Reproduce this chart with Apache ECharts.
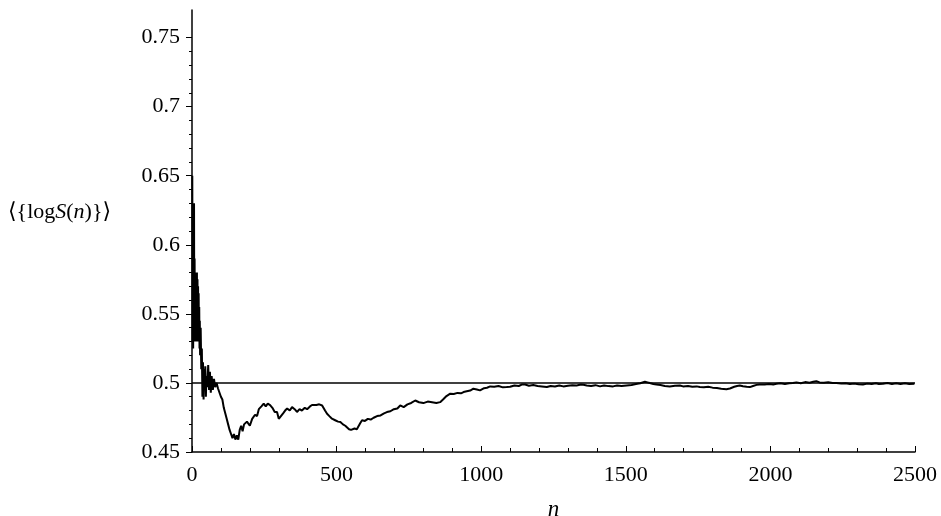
<!DOCTYPE html>
<html>
<head>
<meta charset="utf-8">
<script src="https://cdn.jsdelivr.net/npm/echarts@6/dist/echarts.min.js"></script>
<style>
  html, body { margin: 0; padding: 0; background: #fff; }
  #chart { width: 941px; height: 516px; }
</style>
</head>
<body>
<div id="chart"></div>
<script>
// running mean
var nVals = [1, 2, 3, 4, 5, 6, 7, 8, 9, 10, 11, 12, 13, 14, 15, 16, 17, 18, 19, 20,
  21, 22, 23, 24, 25, 26, 27, 28, 30, 32, 34, 36, 38, 40, 42, 44, 46, 48, 50, 53,
  56, 59, 62, 65, 68, 72, 76, 80, 85, 90, 95, 100, 105, 110, 115, 120, 125, 130, 135, 140,
  145, 150, 155, 160, 165, 170, 175, 180, 190, 200, 208, 213, 218, 225, 231, 240, 248, 255, 262, 270,
  278, 286, 294, 300, 306, 315, 322, 329, 338, 346, 355, 363, 372, 380, 390, 398, 408, 415, 421, 430,
  440, 450, 460, 467, 475, 484, 495, 505, 513, 522, 530, 536, 543, 550, 555, 562, 570, 576, 582, 588,
  598, 608, 618, 628, 640, 652, 664, 674, 686, 698, 710, 720, 732, 745, 758, 772, 785, 800, 815, 830,
  845, 858, 868, 880, 893, 905, 918, 930, 939, 950, 962, 973, 985, 996, 1010, 1020, 1031, 1045, 1060, 1075,
  1088, 1100, 1115, 1130, 1140, 1152, 1165, 1180, 1195, 1210, 1227, 1240, 1255, 1270, 1284, 1300, 1315, 1330, 1345, 1353,
  1365, 1380, 1395, 1411, 1425, 1440, 1456, 1470, 1485, 1503, 1520, 1535, 1550, 1566, 1575, 1583, 1595, 1606, 1620, 1635,
  1652, 1670, 1687, 1698, 1715, 1730, 1745, 1756, 1770, 1785, 1800, 1815, 1830, 1848, 1860, 1875, 1885, 1894, 1905, 1918,
  1929, 1940, 1952, 1963, 1980, 1995, 2010, 2021, 2035, 2050, 2065, 2078, 2090, 2105, 2120, 2135, 2148, 2159, 2170, 2185,
  2200, 2215, 2228, 2245, 2260, 2275, 2290, 2305, 2320, 2335, 2350, 2365, 2375, 2389, 2405, 2420, 2435, 2450, 2465, 2480,
  2498]
var meanVals = [0.65, 0.53, 0.62, 0.525, 0.6, 0.54, 0.63, 0.53, 0.59, 0.535, 0.57, 0.53, 0.575, 0.54, 0.58, 0.53, 0.58, 0.535, 0.575, 0.53,
  0.57, 0.535, 0.565, 0.53, 0.555, 0.525, 0.545, 0.52, 0.54, 0.51, 0.525, 0.49, 0.515, 0.488, 0.51, 0.495, 0.512, 0.49, 0.505, 0.497,
  0.513, 0.495, 0.508, 0.493, 0.505, 0.495, 0.503, 0.497, 0.5, 0.496, 0.497, 0.49, 0.488, 0.482, 0.478, 0.474, 0.47, 0.466, 0.463, 0.46,
  0.463, 0.459, 0.462, 0.459, 0.466, 0.469, 0.465, 0.47, 0.472, 0.469, 0.474, 0.473, 0.477, 0.476, 0.481, 0.483, 0.485, 0.483, 0.485, 0.484,
  0.482, 0.479, 0.479, 0.474, 0.473, 0.478, 0.48, 0.4815, 0.48, 0.4825, 0.481, 0.479, 0.481, 0.48, 0.482, 0.481, 0.483, 0.484, 0.485, 0.484,
  0.4845, 0.4837, 0.48, 0.4777, 0.476, 0.4741, 0.473, 0.472, 0.4717, 0.47, 0.469, 0.468, 0.4665, 0.466, 0.4652, 0.467, 0.4665, 0.4669, 0.471, 0.473,
  0.4725, 0.474, 0.4735, 0.4748, 0.476, 0.4765, 0.478, 0.4789, 0.4795, 0.481, 0.4815, 0.4837, 0.4825, 0.4845, 0.4855, 0.4873, 0.486, 0.4854, 0.4865, 0.486,
  0.4855, 0.4861, 0.488, 0.4905, 0.4922, 0.492, 0.4928, 0.4925, 0.4934, 0.494, 0.4945, 0.4958, 0.4952, 0.4946, 0.4962, 0.4965, 0.4975, 0.4972, 0.4978, 0.4968,
  0.497, 0.4972, 0.4982, 0.4978, 0.4988, 0.4989, 0.498, 0.4985, 0.4978, 0.4975, 0.497, 0.4978, 0.4974, 0.4982, 0.4975, 0.498, 0.4984, 0.4982, 0.4988, 0.4987,
  0.4982, 0.4978, 0.4984, 0.4975, 0.4982, 0.4977, 0.4975, 0.4981, 0.4978, 0.4982, 0.4985, 0.4992, 0.4998, 0.5009, 0.5004, 0.4999, 0.4992, 0.4989, 0.4985, 0.4978,
  0.4975, 0.498, 0.4982, 0.4975, 0.4978, 0.4972, 0.4975, 0.497, 0.4968, 0.4972, 0.4966, 0.4963, 0.4958, 0.4955, 0.496, 0.4972, 0.4978, 0.4982, 0.4976, 0.4972,
  0.497, 0.4978, 0.4986, 0.4989, 0.4988, 0.4992, 0.4989, 0.4994, 0.4997, 0.4993, 0.4998, 0.4999, 0.5004, 0.4998, 0.5006, 0.5002, 0.5008, 0.5013, 0.5004, 0.5002,
  0.5005, 0.5, 0.4999, 0.4996, 0.4998, 0.4992, 0.4995, 0.499, 0.4989, 0.4995, 0.4992, 0.4998, 0.4992, 0.4994, 0.4999, 0.4993, 0.4998, 0.4993, 0.4997, 0.4992,
  0.4994]
var refN = [0, 2500]
var refVals = [0.5, 0.5]

var font = '"Liberation Serif", "DejaVu Serif", serif'
var chart = echarts.init(document.getElementById('chart'))

var lineData = nVals.map(function (n, i) { return [n, meanVals[i]] })
var refData = refN.map(function (n, i) { return [n, refVals[i]] })

chart.setOption({
  animation: false,
  backgroundColor: '#fff',
  grid: [
    { left: 192, right: 26, top: 10, bottom: 64, outerBoundsMode: 'none' },
    // second grid only carries the tick marks up to 0.75
    { left: 192, right: 26, top: 37.6, bottom: 64, outerBoundsMode: 'none' }
  ],
  xAxis: [
    {
      gridIndex: 0,
      type: 'value',
      min: 0,
      max: 2500,
      interval: 500,
      name: 'n',
      nameLocation: 'middle',
      nameGap: 46,
      nameTextStyle: { fontFamily: font, fontSize: 23, fontStyle: 'italic', color: '#000' },
      axisLine: { show: true, lineStyle: { color: '#000', width: 1.5 } },
      axisTick: { show: true, inside: true, length: 6, lineStyle: { color: '#000', width: 1 } },
      minorTick: { show: true, splitNumber: 5, length: 4, lineStyle: { color: '#000', width: 1 } },
      axisLabel: {
        margin: 12, fontFamily: font, fontSize: 22, color: '#000',
        formatter: function (v) { return String(v) }
      },
      splitLine: { show: false }
    },
    { gridIndex: 1, type: 'value', min: 0, max: 2500, show: false }
  ],
  yAxis: [
    {
      gridIndex: 0,
      type: 'value',
      min: 0.45,
      max: 0.77,
      axisLine: { show: true, lineStyle: { color: '#000', width: 1.5 } },
      axisTick: { show: false },
      axisLabel: { show: false },
      splitLine: { show: false }
    },
    {
      gridIndex: 1,
      type: 'value',
      min: 0.45,
      max: 0.75,
      interval: 0.05,
      axisLine: { show: false },
      axisTick: { show: true, length: 6, lineStyle: { color: '#000', width: 1 } },
      minorTick: { show: true, splitNumber: 5, length: 3, lineStyle: { color: '#000', width: 1 } },
      axisLabel: {
        margin: 12, fontFamily: font, fontSize: 22, color: '#000',
        formatter: function (v) { return String(+v.toFixed(2)) }
      },
      splitLine: { show: false }
    }
  ],
  graphic: [
    {
      type: 'text',
      left: 8,
      top: 201,
      style: {
        // trailing "}⟩" is plain text in the base style
        text: '{a|⟨{log}{i|S}{a|(}{i|n}{a|)}}⟩',
        fontFamily: font,
        fontSize: 22,
        fill: '#000',
        rich: {
          a: { fontFamily: font, fontSize: 22, fill: '#000' },
          i: { fontFamily: font, fontSize: 22, fontStyle: 'italic', fill: '#000' }
        }
      }
    }
  ],
  series: [
    {
      type: 'line',
      xAxisIndex: 0,
      yAxisIndex: 0,
      data: refData,
      showSymbol: false,
      silent: true,
      lineStyle: { color: '#000', width: 1.5 }
    },
    {
      type: 'line',
      xAxisIndex: 0,
      yAxisIndex: 0,
      data: lineData,
      showSymbol: false,
      silent: true,
      lineStyle: { color: '#000', width: 2 }
    }
  ]
})
</script>
</body>
</html>
